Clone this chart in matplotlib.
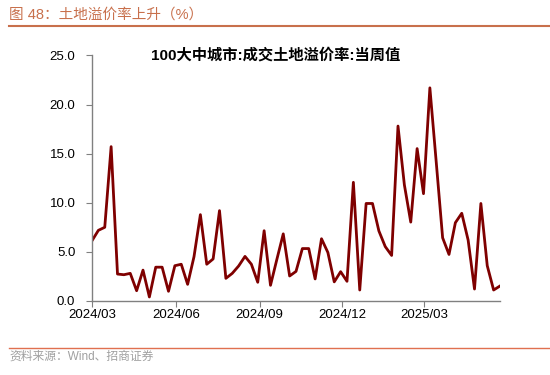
import numpy as np
import pandas as pd
import matplotlib
matplotlib.use('Agg')
from matplotlib import pyplot as plt
import matplotlib.dates as mdates

# weekly land premium rate, 100 large and medium cities (%)
start_date = '2024-03-01'
premium = [6.1, 7.16, 7.47, 15.7, 2.7, 2.63, 2.77, 1.0, 3.1, 0.36,
           3.4, 3.4, 0.94, 3.55, 3.7, 1.65, 4.47, 8.76, 3.7, 4.24,
           9.17, 2.26, 2.77, 3.52, 4.5, 3.7, 1.86, 7.12, 1.55, 4.2,
           6.8, 2.5, 2.97, 5.3, 5.3, 2.2, 6.3, 4.9, 1.9, 2.94,
           1.96, 12.06, 1.07, 9.9, 9.9, 7.1, 5.5, 4.6, 17.8, 11.8,
           8.0, 15.5, 10.9, 21.7, 14.1, 6.4, 4.7, 7.94, 8.9, 6.17,
           1.17, 9.9, 3.55, 1.07, 1.48]
tick_months = ['2024-03-01', '2024-06-01', '2024-09-01', '2024-12-01', '2025-03-01']
y_ticks = [0, 5, 10, 15, 20, 25]

dates = pd.date_range(start_date, periods=len(premium), freq='7D')

plt.rcParams['font.family'] = ['Liberation Sans', 'Noto Sans CJK SC', 'DejaVu Sans']

fig = plt.figure(figsize=(5.5, 3.75), dpi=100)
ax = fig.add_axes([92/550, 1-300.5/375, (500-92)/550, 245/375])

ax.plot(dates, premium, color='#7F0000', lw=2.0)

ax.set_xlim(dates[0], dates[-1])
ax.set_ylim(0, 25)
ax.set_yticks(y_ticks)
ax.yaxis.set_major_formatter(matplotlib.ticker.FormatStrFormatter('%.1f'))
ax.set_xticks(pd.to_datetime(tick_months))
ax.xaxis.set_major_formatter(mdates.DateFormatter('%Y/%m'))

for s in ['top', 'right']:
    ax.spines[s].set_visible(False)
for s in ['left', 'bottom']:
    ax.spines[s].set_color('#808080')
    ax.spines[s].set_linewidth(1.0)
ax.tick_params(axis='y', direction='out', length=4, color='#808080', labelsize=9.5, pad=8)
ax.tick_params(axis='x', direction='out', length=4, color='#808080', labelsize=9.5, pad=2)

fig.text(276/550, 1-55/375, '100大中城市:成交土地溢价率:当周值', ha='center', va='center',
         fontsize=11, fontweight='bold', color='black')

# header and source
head_color = '#C8704C'
fig.text(9/550, 1-15/375, '图 48：土地溢价率上升（%）', ha='left', va='center',
         fontsize=10.5, color=head_color, fontweight='medium')
fig.add_artist(plt.Line2D([9/550, 1.0], [1-25.5/375, 1-25.5/375], color=head_color, lw=1.5))
fig.add_artist(plt.Line2D([9/550, 1.0], [1-348/375, 1-348/375], color='#E07050', lw=1.0))
fig.text(9/550, 1-357/375, '资料来源：Wind、招商证券', ha='left', va='center',
         fontsize=8.5, color='#A0A0A0')

fig.savefig('out.png', dpi=100)
